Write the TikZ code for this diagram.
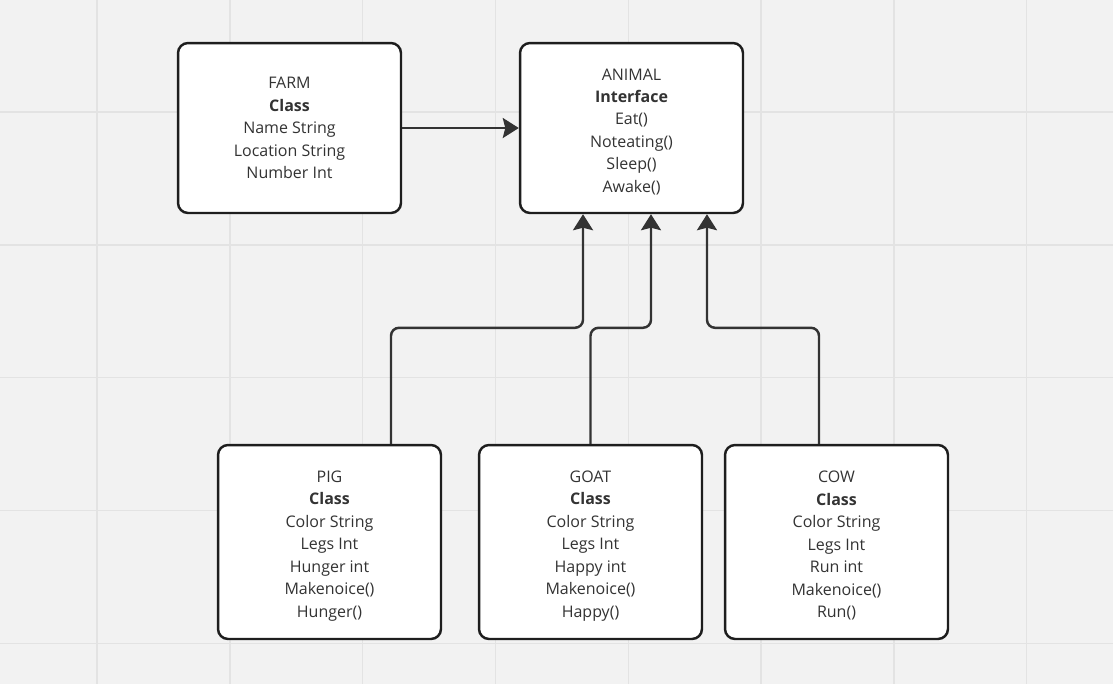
\documentclass[tikz,border=0pt]{standalone}
\usepackage{fontspec}
\setmainfont{Open Sans}
\usetikzlibrary{arrows.meta}

\definecolor{board}{HTML}{F2F2F2}
\definecolor{gridline}{HTML}{E3E3E3}
\definecolor{ink}{HTML}{333333}
\definecolor{edge}{HTML}{1E1E1E}

% first line with a taller strut, so the text sits a bit lower in its box
\newcommand{\boxhead}[1]{\rule{0pt}{0.38cm}#1}

\tikzset{
  box/.style={draw=edge, fill=white, line width=1.4pt, rounded corners=0.2cm,
    minimum width=4.46cm, align=center, text=ink,
    font=\fontsize{9.1}{12.8}\selectfont},
  conn/.style={draw=ink, line width=1.4pt, rounded corners=0.16cm,
    -{Stealth[length=0.32cm, width=0.4cm, inset=0.05cm]}}
}

\begin{document}
\begin{tikzpicture}[x=0.02cm, y=-0.02cm]
      \fill[board] (0,0) rectangle (1113,684);
      \useasboundingbox (0,0) rectangle (1113,684);

      % grid
      \foreach \i in {0,...,7}
        \draw[gridline, line width=0.8pt] ({97+132.8*\i},0) -- ({97+132.8*\i},684);
      \foreach \i in {0,...,4}
        \draw[gridline, line width=0.8pt] (0,{112+132.8*\i}) -- (1113,{112+132.8*\i});

      % farm and animal
      \node[box, minimum height=3.4cm] (farm) at (289.5,128)
        {FARM\\\textbf{Class}\\Name String\\Location String\\Number Int};
      \node[box, minimum height=3.4cm] (animal) at (631.5,128)
        {\boxhead{ANIMAL}\\\textbf{Interface}\\Eat()\\Noteating()\\Sleep()\\Awake()};
      \draw[conn] (farm.east) -- (animal.west);

      % pig, goat, cow
      \node[box, minimum height=3.88cm] (pig) at (329.5,542)
        {\boxhead{PIG}\\\textbf{Class}\\Color String\\Legs Int\\Hunger int\\Makenoice()\\Hunger()};
      \node[box, minimum height=3.88cm] (goat) at (590.5,542)
        {\boxhead{GOAT}\\\textbf{Class}\\Color String\\Legs Int\\Happy int\\Makenoice()\\Happy()};
      \node[box, minimum height=3.88cm] (cow) at (836.5,542)
        {\boxhead{COW}\\\textbf{Class}\\Color String\\Legs Int\\Run int\\Makenoice()\\Run()};

      % inheritance
      \draw[conn] ([xshift=1.23cm]pig.north) -- ++(0,-116) -| ([xshift=-0.97cm]animal.south);
      \draw[conn] (goat.north) -- ++(0,-116) -| ([xshift=0.39cm]animal.south);
      \draw[conn] ([xshift=-0.35cm]cow.north) -- ++(0,-116) -| ([xshift=1.51cm]animal.south);
\end{tikzpicture}
\end{document}
